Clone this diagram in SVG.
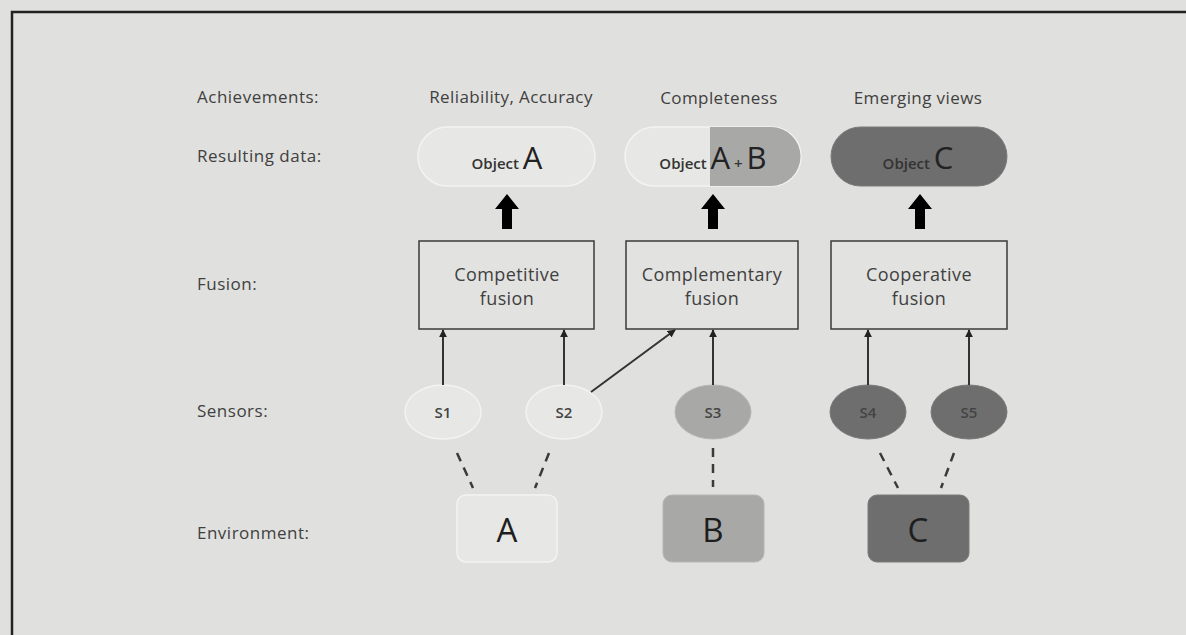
<svg xmlns="http://www.w3.org/2000/svg" width="1186" height="635" viewBox="0 0 1186 635">
  <defs>
    <style>
      text { font-family: "Open Sans", Lato, "Liberation Sans", sans-serif; fill: #404040; }
      .row { font-size: 17px; letter-spacing: 0.5px; }
      .head { font-size: 17px; letter-spacing: 0.4px; text-anchor: middle; }
      .box { fill: #e2e3e0; stroke: #3a3a3a; stroke-width: 1.5; }
      .box-text { font-size: 18px; letter-spacing: 0.4px; text-anchor: middle; }
      .light { fill: #e7e8e5; stroke: #f3f3f1; stroke-width: 1.5; }
      .mid { fill: #a8a9a7; stroke: #b5b6b4; stroke-width: 1; }
      .dark { fill: #6e6e6e; stroke: #7a7a7a; stroke-width: 1; }
      .obj { font-size: 15px; font-weight: 600; text-anchor: middle; fill: #333; }
      .big { font-size: 31px; font-weight: 400; fill: #222; }
      .sensor-text { font-size: 15px; font-weight: 600; text-anchor: middle; fill: #444; }
      .env-text { font-size: 33px; text-anchor: middle; fill: #1e1e1e; }
      .link { stroke: #333; stroke-width: 2; fill: none; marker-end: url(#tip); }
      .dash { stroke: #3a3a3a; stroke-width: 2.5; stroke-dasharray: 9 7; fill: none; }
      .fat { fill: #000; }
    </style>
    <marker id="tip" viewBox="0 0 10 10" refX="9" refY="5" markerWidth="4" markerHeight="4" orient="auto">
      <path d="M0,0 L10,5 L0,10 z" fill="#222"/>
    </marker>
  </defs>

  <!-- background and frame -->
  <rect x="0" y="0" width="1186" height="635" fill="#e0e1de"/>
  <path d="M12,640 L12,12 L1190,12" fill="none" stroke="#222" stroke-width="2.5"/>

  <!-- row labels -->
  <g id="row-labels">
    <text class="row" x="197" y="103">Achievements:</text>
    <text class="row" x="197" y="162">Resulting data:</text>
    <text class="row" x="197" y="290">Fusion:</text>
    <text class="row" x="197" y="417">Sensors:</text>
    <text class="row" x="197" y="539">Environment:</text>
  </g>

  <!-- achievements -->
  <g id="achievements">
    <text class="head" x="511" y="103">Reliability, Accuracy</text>
    <text class="head" x="719" y="104">Completeness</text>
    <text class="head" x="918" y="104">Emerging views</text>
  </g>

  <!-- resulting data -->
  <g id="result-a">
    <rect class="light" x="418" y="127" width="177" height="59" rx="29.5"/>
    <text class="obj" x="507" y="169"><tspan>Object </tspan><tspan class="big">A</tspan></text>
  </g>
  <g id="result-ab">
    <rect class="light" x="625" y="127" width="176" height="59" rx="29.5"/>
    <path d="M710,127 L771,127 A29.5,29.5 0 0 1 771,186 L710,186 z" fill="#a8a9a7"/>
    <text class="obj" x="713" y="169"><tspan>Object </tspan><tspan class="big">A</tspan><tspan font-size="15" fill="#333"> + </tspan><tspan class="big">B</tspan></text>
  </g>
  <g id="result-c">
    <rect class="dark" x="831" y="127" width="176" height="59" rx="29.5"/>
    <text class="obj" x="918" y="169"><tspan>Object </tspan><tspan class="big">C</tspan></text>
  </g>

  <!-- fusion arrows -->
  <g id="fusion-arrows" class="fat">
    <path d="M507,194 L519,209 L512,209 L512,229 L502,229 L502,209 L495,209 z"/>
    <path d="M713,194 L725,209 L718,209 L718,229 L708,229 L708,209 L701,209 z"/>
    <path d="M920,194 L932,209 L925,209 L925,229 L915,229 L915,209 L908,209 z"/>
  </g>

  <!-- fusion boxes -->
  <g id="competitive">
    <rect class="box" x="419" y="241" width="175" height="88"/>
    <text class="box-text" x="507" y="281">Competitive</text>
    <text class="box-text" x="507" y="305">fusion</text>
  </g>
  <g id="complementary">
    <rect class="box" x="626" y="241" width="172" height="88"/>
    <text class="box-text" x="712" y="281">Complementary</text>
    <text class="box-text" x="712" y="305">fusion</text>
  </g>
  <g id="cooperative">
    <rect class="box" x="831" y="241" width="176" height="88"/>
    <text class="box-text" x="919" y="281">Cooperative</text>
    <text class="box-text" x="919" y="305">fusion</text>
  </g>

  <!-- sensors -->
  <g id="s1">
    <ellipse class="light" cx="443" cy="412" rx="38" ry="27"/>
    <text class="sensor-text" x="443" y="418">S1</text>
  </g>
  <g id="s2">
    <ellipse class="light" cx="564" cy="412" rx="38" ry="27"/>
    <text class="sensor-text" x="564" y="418">S2</text>
  </g>
  <g id="s3">
    <ellipse class="mid" cx="713" cy="412" rx="38" ry="27"/>
    <text class="sensor-text" x="713" y="418">S3</text>
  </g>
  <g id="s4">
    <ellipse class="dark" cx="868" cy="412" rx="38" ry="27"/>
    <text class="sensor-text" x="868" y="418" fill="#333">S4</text>
  </g>
  <g id="s5">
    <ellipse class="dark" cx="969" cy="412" rx="38" ry="27"/>
    <text class="sensor-text" x="969" y="418" fill="#333">S5</text>
  </g>

  <!-- environment -->
  <g id="env-a">
    <rect class="light" x="457" y="495" width="100" height="67" rx="9"/>
    <text class="env-text" x="507" y="542">A</text>
  </g>
  <g id="env-b">
    <rect class="mid" x="663" y="495" width="101" height="67" rx="9"/>
    <text class="env-text" x="713" y="542">B</text>
  </g>
  <g id="env-c">
    <rect class="dark" x="868" y="495" width="101" height="67" rx="9"/>
    <text class="env-text" x="918" y="542">C</text>
  </g>

  <!-- connectors -->
  <g id="connectors">
    <line class="link" x1="443" y1="385" x2="443" y2="330"/>
    <line class="link" x1="564" y1="385" x2="564" y2="330"/>
    <line class="link" x1="591" y1="392" x2="675" y2="330"/>
    <line class="link" x1="713" y1="385" x2="713" y2="330"/>
    <line class="link" x1="868" y1="385" x2="868" y2="330"/>
    <line class="link" x1="969" y1="385" x2="969" y2="330"/>
    <line class="dash" x1="457" y1="453" x2="473" y2="488"/>
    <line class="dash" x1="549" y1="453" x2="535" y2="488"/>
    <line class="dash" x1="713" y1="448" x2="713" y2="487"/>
    <line class="dash" x1="880" y1="453" x2="898" y2="488"/>
    <line class="dash" x1="954" y1="453" x2="941" y2="488"/>
  </g>
</svg>
